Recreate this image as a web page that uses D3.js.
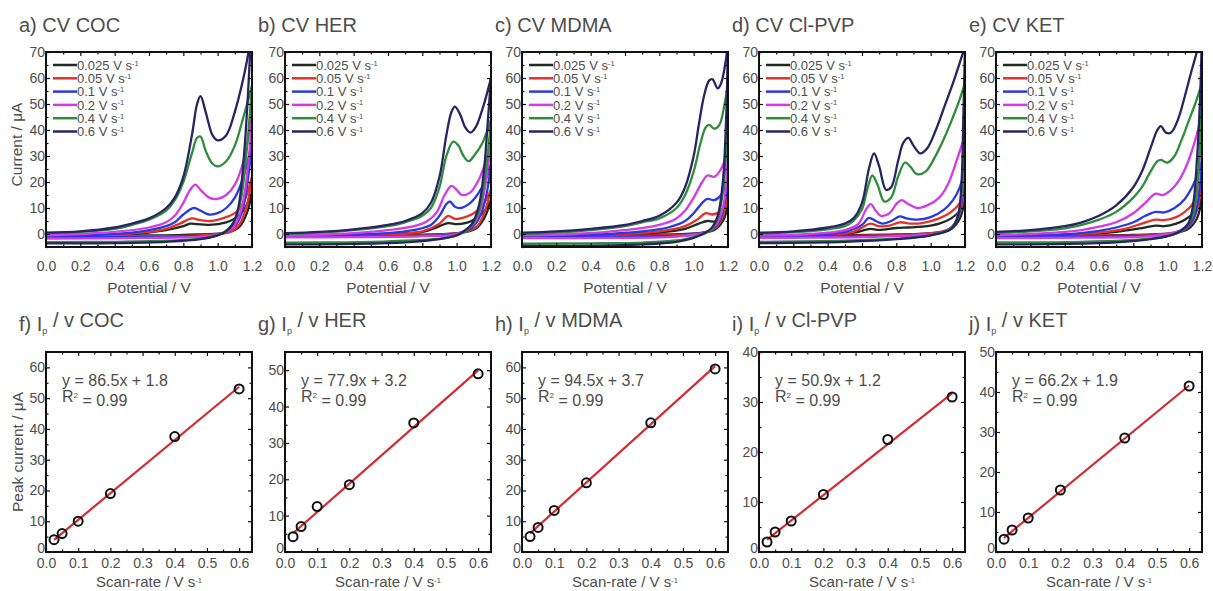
<!DOCTYPE html>
<html>
<head>
<meta charset="utf-8">
<script src="https://cdn.jsdelivr.net/npm/d3@7"></script>
<style>
  html, body { margin: 0; padding: 0; background: #fff; }
  svg { display: block; font-family: "Liberation Sans", Arial, sans-serif; }
</style>
</head>
<body>
<svg id="chart" width="1213" height="591"></svg>
<script>
// ---- data -------------------------------------------------------------
const analytes = ["COC", "HER", "MDMA", "Cl-PVP", "KET"];
const cvLetters = ["a", "b", "c", "d", "e"];
const fitLetters = ["f", "g", "h", "i", "j"];
const scanRates = [0.025, 0.05, 0.1, 0.2, 0.4, 0.6];
const rateLabels = ["0.025", "0.05", "0.1", "0.2", "0.4", "0.6"];

// potential (V), current (µA); forward sweeps for each scan rate (slowest first)
const cvCOCForward = [
  [[0,-0.6],[0.5,0],[0.7,1.5],[0.8,3],[0.84,4],[0.88,3.8],[0.95,3.5],[1.05,4.5],[1.1,6],[1.15,9],[1.2,16]],
  [[0,-0.8],[0.4,-0.3],[0.6,0.8],[0.7,2],[0.78,4],[0.85,6],[0.9,5.3],[0.96,5],[1.05,6.5],[1.1,8],[1.15,12],[1.2,22]],
  [[0,-0.8],[0.3,-0.3],[0.5,0.5],[0.6,1.5],[0.7,3],[0.75,4.5],[0.8,7.5],[0.86,10],[0.9,9],[0.95,7.5],[1.0,8],[1.05,10],[1.1,14],[1.15,22],[1.2,35]],
  [[0,-0.5],[0.2,0],[0.4,0.8],[0.6,2.5],[0.7,4.5],[0.75,7],[0.8,12],[0.84,17],[0.87,19],[0.9,17],[0.95,14],[1.0,13.5],[1.05,15],[1.1,19],[1.15,28],[1.2,46]],
  [[0,0.3],[0.2,0.8],[0.4,2],[0.5,3.5],[0.6,5.5],[0.7,9],[0.75,13],[0.8,20],[0.85,31],[0.88,37],[0.9,37.5],[0.93,32],[0.97,27],[1.0,26],[1.05,28],[1.1,34],[1.15,45],[1.2,57]],
  [[0,0.5],[0.2,1],[0.4,2.5],[0.5,4],[0.6,6],[0.7,10],[0.75,14],[0.8,22],[0.85,38],[0.88,50],[0.9,53],[0.93,47],[0.97,38],[1.0,36],[1.05,38],[1.1,47],[1.15,60],[1.18,70],[1.2,78]]
];
const cvCOCReverse = [
  [[1.2,16],[1.17,8],[1.13,3],[1.07,0.8],[0.8,-0.3],[0,-0.5]],
  [[1.2,22],[1.17,11],[1.13,4],[1.08,1],[0.9,-0.5],[0.5,-0.8],[0,-0.9]],
  [[1.2,35],[1.17,18],[1.14,8],[1.1,3],[1.0,-0.3],[0.8,-0.9],[0.4,-1.2],[0,-1.3]],
  [[1.2,46],[1.18,28],[1.15,13],[1.12,6],[1.08,2],[1.0,-0.3],[0.9,-1],[0.6,-1.5],[0,-1.8]],
  [[1.2,57],[1.18,40],[1.16,26],[1.14,15],[1.11,7],[1.07,2.5],[1.0,-0.5],[0.9,-1.8],[0.7,-2.6],[0.4,-3],[0,-3.1]],
  [[1.2,85],[1.18,58],[1.16,36],[1.14,20],[1.12,10],[1.09,4],[1.05,1],[1.0,-0.5],[0.9,-2],[0.7,-3],[0.4,-3.5],[0,-3.6]]
];

const cvHERForward = [
  [[0,-0.6],[0.5,-0.1],[0.8,0.8],[0.9,3],[0.95,4.2],[1.0,3.8],[1.05,4.2],[1.1,5.5],[1.15,8],[1.2,13]],
  [[0,-0.8],[0.5,-0.2],[0.8,1],[0.9,4],[0.95,7],[0.99,5.8],[1.05,6.5],[1.1,8],[1.15,11],[1.2,17]],
  [[0,-0.8],[0.4,-0.3],[0.7,1],[0.85,3.5],[0.9,7],[0.94,11.5],[0.96,12.5],[0.99,10.5],[1.02,10],[1.08,12],[1.13,16],[1.17,21],[1.2,27]],
  [[0,-0.5],[0.3,0],[0.6,1.5],[0.8,4],[0.88,8],[0.93,15],[0.97,18.5],[1.0,17],[1.03,15],[1.08,16],[1.13,21],[1.17,28],[1.2,35]],
  [[0,0],[0.2,0.5],[0.4,1.5],[0.6,3],[0.7,4.5],[0.8,7],[0.85,10],[0.9,18],[0.94,30],[0.98,35.5],[1.01,34],[1.04,30],[1.07,28],[1.1,30],[1.15,35],[1.2,44]],
  [[0,0.3],[0.2,0.8],[0.4,1.8],[0.6,3.5],[0.7,5],[0.8,8],[0.85,12],[0.9,22],[0.94,38],[0.97,47],[0.99,49],[1.02,46],[1.05,41],[1.08,39],[1.11,41],[1.15,48],[1.2,60]]
];
const cvHERReverse = [
  [[1.2,13],[1.16,6],[1.11,2],[1.0,0.3],[0.7,-0.3],[0,-0.5]],
  [[1.2,17],[1.16,8],[1.12,3],[1.05,0.8],[0.9,-0.3],[0.5,-0.7],[0,-0.8]],
  [[1.2,27],[1.17,14],[1.13,6],[1.08,2],[1.0,0],[0.8,-0.7],[0.4,-1],[0,-1.1]],
  [[1.2,35],[1.17,20],[1.14,10],[1.1,4],[1.0,0],[0.8,-0.8],[0.4,-1.2],[0,-1.3]],
  [[1.2,44],[1.18,30],[1.15,15],[1.12,7],[1.07,2],[1.0,-0.5],[0.9,-1.8],[0.6,-2.8],[0.3,-3.2],[0,-3.3]],
  [[1.2,60],[1.18,42],[1.16,25],[1.13,11],[1.09,4],[1.04,1],[1.0,-0.5],[0.9,-2],[0.7,-3.2],[0.4,-3.8],[0,-4]]
];

const cvMDMAForward = [
  [[0,-0.6],[0.5,-0.1],[0.8,0.6],[0.95,2],[1.03,4],[1.08,5],[1.12,4.8],[1.16,6.5],[1.2,11]],
  [[0,-0.8],[0.5,-0.2],[0.8,1],[0.95,3],[1.02,5.5],[1.07,8],[1.11,7.5],[1.16,9],[1.2,15]],
  [[0,-0.8],[0.4,-0.3],[0.7,1],[0.85,2.5],[0.95,5],[1.0,8],[1.05,12],[1.08,13.5],[1.12,13],[1.16,15],[1.2,22]],
  [[0,-0.5],[0.3,0],[0.6,1.5],[0.8,3.5],[0.9,6],[0.95,9],[1.0,14],[1.05,20],[1.08,22.5],[1.12,22],[1.15,24],[1.18,28],[1.2,33]],
  [[0,0],[0.2,0.5],[0.4,1.5],[0.6,3],[0.7,4.5],[0.8,6],[0.9,10],[0.95,15],[1.0,24],[1.04,35],[1.07,41],[1.09,42],[1.12,40.5],[1.15,42],[1.18,50],[1.2,58]],
  [[0,0.5],[0.2,1],[0.4,2],[0.6,3.5],[0.7,5],[0.8,7],[0.9,12],[0.95,18],[1.0,30],[1.03,42],[1.06,53],[1.09,59],[1.11,59.5],[1.14,56],[1.16,58],[1.19,68],[1.2,75]]
];
const cvMDMAReverse = [
  [[1.2,11],[1.17,5],[1.12,1.5],[1.0,0.2],[0.6,-0.3],[0,-0.5]],
  [[1.2,15],[1.17,7],[1.13,2.5],[1.05,0.3],[0.7,-0.6],[0,-0.8]],
  [[1.2,22],[1.18,12],[1.15,5],[1.1,1.5],[1.0,-0.3],[0.7,-0.9],[0,-1.1]],
  [[1.2,33],[1.19,20],[1.17,10],[1.13,3.5],[1.08,0.8],[0.9,-1],[0.5,-1.5],[0,-1.6]],
  [[1.2,58],[1.19,34],[1.17,16],[1.14,6],[1.1,1.5],[1.0,-1.2],[0.9,-2.5],[0.7,-3.3],[0.4,-3.6],[0,-3.7]],
  [[1.2,75],[1.19,46],[1.17,20],[1.14,7],[1.1,2],[1.0,-1.5],[0.9,-3],[0.7,-4],[0.4,-4.5],[0,-4.5]]
];

const cvClPVPForward = [
  [[0,-0.6],[0.4,-0.2],[0.55,0.5],[0.62,1.6],[0.65,2],[0.7,1.6],[0.8,2.3],[0.87,2.5],[0.95,2.8],[1.05,4],[1.12,6],[1.17,9],[1.2,14]],
  [[0,-0.8],[0.4,-0.3],[0.55,0.8],[0.62,3.2],[0.65,4],[0.7,3],[0.76,3.2],[0.82,4.5],[0.88,4],[0.95,4.2],[1.05,6],[1.12,8.5],[1.17,12],[1.2,18]],
  [[0,-0.8],[0.3,-0.3],[0.5,0.8],[0.6,3.5],[0.64,6.2],[0.68,5],[0.72,4],[0.77,5],[0.82,6.8],[0.86,6],[0.92,5.5],[1.0,6.5],[1.08,9.5],[1.13,13],[1.17,18],[1.2,26]],
  [[0,-0.5],[0.3,0],[0.5,1.5],[0.58,4],[0.62,9],[0.65,11.5],[0.68,9],[0.71,7],[0.76,8],[0.8,11.5],[0.83,13],[0.87,11.5],[0.92,10],[0.98,11],[1.05,14],[1.1,19],[1.15,28],[1.2,38]],
  [[0,0.2],[0.2,0.7],[0.4,1.8],[0.5,3],[0.55,5],[0.6,9.5],[0.63,17],[0.66,22.5],[0.69,19],[0.73,12.5],[0.77,14],[0.81,22],[0.85,27.5],[0.88,26],[0.92,23],[0.97,24],[1.02,29],[1.08,37],[1.13,45],[1.17,52],[1.2,58]],
  [[0,0.5],[0.2,1],[0.4,2.5],[0.5,4],[0.55,6],[0.6,12],[0.64,25],[0.67,31],[0.7,26],[0.74,17],[0.77,18],[0.81,28],[0.84,35],[0.87,37],[0.9,34],[0.94,31],[0.98,33],[1.03,40],[1.08,49],[1.13,58],[1.18,68],[1.2,72]]
];
const cvClPVPReverse = [
  [[1.2,14],[1.17,6],[1.12,2],[1.05,0.6],[0.8,-0.2],[0,-0.5]],
  [[1.2,18],[1.17,8],[1.13,3],[1.07,1],[0.9,-0.2],[0.5,-0.7],[0,-0.9]],
  [[1.2,26],[1.18,12],[1.15,5],[1.1,1.5],[1.0,-0.2],[0.6,-0.8],[0,-1.1]],
  [[1.2,38],[1.19,22],[1.17,10],[1.13,3],[1.06,0.5],[0.7,-1],[0.3,-1.4],[0,-1.5]],
  [[1.2,58],[1.19,34],[1.18,16],[1.15,5],[1.1,1.5],[1.0,-0.5],[0.8,-1.8],[0.5,-2.6],[0,-3]],
  [[1.2,72],[1.19,44],[1.18,20],[1.16,7],[1.12,2],[1.0,-0.5],[0.8,-2],[0.5,-3],[0,-3.5]]
];

const cvKETForward = [
  [[0,-0.6],[0.5,-0.1],[0.7,0.8],[0.85,2.3],[0.93,3.2],[0.98,3],[1.05,4],[1.1,5.5],[1.15,8],[1.2,14]],
  [[0,-0.8],[0.4,-0.3],[0.6,0.5],[0.75,2],[0.85,4],[0.93,5.5],[0.98,5.3],[1.05,6.5],[1.1,8.5],[1.15,12],[1.2,20]],
  [[0,-0.8],[0.4,-0.2],[0.6,1.2],[0.7,2.5],[0.8,4.5],[0.87,7],[0.93,8.5],[0.98,8.3],[1.04,10],[1.1,13.5],[1.15,19],[1.2,28]],
  [[0,-0.5],[0.3,0.3],[0.5,1.5],[0.6,2.8],[0.7,4.5],[0.8,8],[0.87,12],[0.93,15.5],[0.97,15],[1.02,17],[1.07,21],[1.12,28],[1.16,36],[1.2,46]],
  [[0,0.3],[0.2,1],[0.4,2.2],[0.5,3.5],[0.6,5.5],[0.7,8.5],[0.8,14],[0.85,18],[0.9,24],[0.94,28],[0.96,28.5],[1.0,27.5],[1.04,30],[1.08,36],[1.12,43],[1.16,50],[1.2,58]],
  [[0,0.8],[0.2,1.5],[0.4,3],[0.5,4.5],[0.6,7],[0.7,11],[0.8,18],[0.85,24],[0.9,33],[0.94,40],[0.96,41.5],[0.99,39],[1.02,39],[1.06,44],[1.1,53],[1.14,63],[1.17,70],[1.2,78]]
];
const cvKETReverse = [
  [[1.2,14],[1.17,6],[1.12,2],[1.05,0.5],[0.8,-0.3],[0,-0.5]],
  [[1.2,20],[1.17,9],[1.13,3.5],[1.07,1],[0.9,-0.3],[0.5,-0.7],[0,-0.9]],
  [[1.2,28],[1.18,14],[1.15,6],[1.1,2],[1.0,-0.2],[0.7,-0.8],[0,-1.1]],
  [[1.2,46],[1.18,24],[1.16,11],[1.12,4],[1.06,1],[0.9,-0.8],[0.5,-1.4],[0,-1.6]],
  [[1.2,58],[1.19,36],[1.17,16],[1.14,6],[1.09,1.5],[1.0,-0.8],[0.8,-2.3],[0.5,-3],[0,-3.2]],
  [[1.2,78],[1.19,54],[1.17,28],[1.15,12],[1.12,4],[1.07,1],[1.0,-0.8],[0.9,-2],[0.7,-3.2],[0.4,-3.8],[0,-4]]
];

// anodic peak current (µA) against scan rate
const peakCOC = [4.0, 6.0, 10.0, 19.0, 37.5, 53.0];
const peakHER = [4.2, 7.0, 12.5, 18.5, 35.5, 49.0];
const peakMDMA = [5.0, 8.0, 13.5, 22.5, 42.0, 59.5];
const peakClPVP = [2.0, 4.0, 6.2, 11.5, 22.5, 31.0];
const peakKET = [3.2, 5.5, 8.5, 15.5, 28.5, 41.5];

// linear fits: slope, intercept, R²
const fitSlopes = [86.5, 77.9, 94.5, 50.9, 66.2];
const fitIntercepts = [1.8, 3.2, 3.7, 1.2, 1.9];
const fitR2 = ["0.99", "0.99", "0.99", "0.99", "0.99"];
const peakAxisMax = [65, 55, 65, 40, 50];

const potentialTicks = [0, 0.2, 0.4, 0.6, 0.8, 1.0, 1.2];
const currentTicks = [0, 10, 20, 30, 40, 50, 60, 70];
const rateTicks = [0, 0.1, 0.2, 0.3, 0.4, 0.5, 0.6];

const cvForward = [cvCOCForward, cvHERForward, cvMDMAForward, cvClPVPForward, cvKETForward];
const cvReverse = [cvCOCReverse, cvHERReverse, cvMDMAReverse, cvClPVPReverse, cvKETReverse];
const peaks = [peakCOC, peakHER, peakMDMA, peakClPVP, peakKET];

// ---- styles -------------------------------------------------------------
const rateColors = ["#1f2a22", "#e2322b", "#2b38e0", "#d23be6", "#2f8c3a", "#272463"];
const textColor = "#4d4d4d";
const panelLeft = [46, 285, 522, 759, 996];
const panelW = 206;
const cvTop = 52, cvH = 195;
const fitTop = 352, fitH = 200;

const svg = d3.select("#chart");
const defs = svg.append("defs");

function drawFrame(g, x, y, w, h, xMajor, xMinor, yMajor, yMinor, xFmt, yFmt, xPad) {
  const clean = sel => { sel.select(".domain").remove(); sel.selectAll("line").attr("stroke", "#111").attr("stroke-width", 1.2); };
  const lab = sel => sel.selectAll("text").attr("fill", textColor).style("font-size", "14px");
  g.append("g").attr("transform", `translate(0,${h})`)
    .call(d3.axisBottom(x).tickValues(xMajor).tickSize(-4).tickPadding(xPad).tickFormat(xFmt)).call(clean).call(lab);
  g.append("g").attr("transform", `translate(0,${h})`)
    .call(d3.axisBottom(x).tickValues(xMinor).tickSize(-2.5).tickFormat("")).call(clean);
  g.append("g").call(d3.axisTop(x).tickValues(xMajor).tickSize(-4).tickFormat("")).call(clean);
  g.append("g").call(d3.axisTop(x).tickValues(xMinor).tickSize(-2.5).tickFormat("")).call(clean);
  const yl = g.append("g")
    .call(d3.axisLeft(y).tickValues(yMajor).tickSize(-4).tickPadding(1).tickFormat(yFmt)).call(clean).call(lab);
  g.append("g").call(d3.axisLeft(y).tickValues(yMinor).tickSize(-2.5).tickFormat("")).call(clean);
  g.append("g").attr("transform", `translate(${w},0)`)
    .call(d3.axisRight(y).tickValues(yMajor).tickSize(-4).tickFormat("")).call(clean);
  g.append("g").attr("transform", `translate(${w},0)`)
    .call(d3.axisRight(y).tickValues(yMinor).tickSize(-2.5).tickFormat("")).call(clean);
  g.append("rect").attr("width", w).attr("height", h)
    .attr("fill", "none").attr("stroke", "#111").attr("stroke-width", 2);
  return yl;
}

// ---- cyclic voltammograms ----------------------------------------------
analytes.forEach((name, p) => {
  const g = svg.append("g").attr("transform", `translate(${panelLeft[p]},${cvTop})`);
  const x = d3.scaleLinear().domain([0, 1.2]).range([0, panelW]);
  const y = d3.scaleLinear().domain([-5, 70]).range([cvH, 0]);

  defs.append("clipPath").attr("id", `cvclip${p}`)
    .append("rect").attr("width", panelW).attr("height", cvH);

  const line = d3.line().x(d => x(d[0])).y(d => y(d[1])).curve(d3.curveCatmullRom.alpha(0.5));
  const curves = g.append("g").attr("clip-path", `url(#cvclip${p})`);
  scanRates.forEach((r, i) => {
    [cvReverse[p][i], cvForward[p][i]].forEach(sweep => {
      curves.append("path").attr("d", line(sweep))
        .attr("fill", "none").attr("stroke", rateColors[i])
        .attr("stroke-width", 2.3).attr("stroke-linejoin", "round");
    });
  });

  drawFrame(g, x, y, panelW, cvH,
    potentialTicks, d3.range(1, 12, 2).map(v => v / 10),
    currentTicks, d3.range(-5, 70, 10),
    d3.format(".1f"), d3.format("d"), 14);

  // legend
  const leg = g.append("g").attr("transform", "translate(7,13)");
  rateLabels.forEach((lbl, i) => {
    const row = leg.append("g").attr("transform", `translate(0,${i * 13.3})`);
    row.append("line").attr("x1", 0).attr("x2", 24).attr("stroke", rateColors[i]).attr("stroke-width", 2.5);
    const t = row.append("text").attr("x", 24).attr("dy", "0.36em")
      .attr("fill", textColor).style("font-size", "13px").text(`${lbl} V s`);
    t.append("tspan").attr("dy", "-0.55em").style("font-size", "7.5px").text("-1");
  });

  svg.append("text").attr("x", panelLeft[p] - 27).attr("y", 32)
    .attr("fill", textColor).style("font-size", "20px").text(`${cvLetters[p]}) CV ${name}`);
  svg.append("text").attr("x", panelLeft[p] + panelW / 2).attr("y", 293)
    .attr("text-anchor", "middle").attr("fill", textColor).style("font-size", "15.5px").text("Potential / V");
});

svg.append("text").attr("transform", `translate(22,${cvTop + cvH / 2 - 5}) rotate(-90)`)
  .attr("text-anchor", "middle").attr("fill", textColor).style("font-size", "15.5px").text("Current / μA");

// ---- peak current vs scan rate -------------------------------------------
analytes.forEach((name, p) => {
  const g = svg.append("g").attr("transform", `translate(${panelLeft[p]},${fitTop})`);
  const x = d3.scaleLinear().domain([0, 0.64]).range([0, panelW]);
  const y = d3.scaleLinear().domain([0, peakAxisMax[p]]).range([fitH, 0]);
  const yMajor = d3.range(0, peakAxisMax[p] + 0.1, 10);
  const yMinor = d3.range(5, peakAxisMax[p], 10);

  const yl = drawFrame(g, x, y, panelW, fitH,
    rateTicks, d3.range(0.05, 0.64, 0.1),
    yMajor, yMinor, d3.format(".1f"), d3.format("d"), 6);
  // lift the zero label clear of the corner
  yl.selectAll(".tick text").filter(d => d === 0).attr("dy", "0.05em");

  const x0 = scanRates[0], x1 = scanRates[scanRates.length - 1];
  const fit = v => fitSlopes[p] * v + fitIntercepts[p];
  g.append("line")
    .attr("x1", x(x0)).attr("y1", y(fit(x0)))
    .attr("x2", x(x1)).attr("y2", y(fit(x1)))
    .attr("stroke", "#d42a33").attr("stroke-width", 2.2);

  g.selectAll("circle.pt").data(scanRates).join("circle").attr("class", "pt")
    .attr("cx", d => x(d)).attr("cy", (d, i) => y(peaks[p][i])).attr("r", 4.5)
    .attr("fill", "none").attr("stroke", "#111").attr("stroke-width", 2);

  g.append("text").attr("x", 16).attr("y", 34).attr("fill", textColor).style("font-size", "16px")
    .text(`y = ${fitSlopes[p].toFixed(1)}x + ${fitIntercepts[p].toFixed(1)}`);
  const r2 = g.append("text").attr("x", 16).attr("y", 50).attr("fill", textColor).style("font-size", "16px").text("R");
  r2.append("tspan").attr("dy", "-0.5em").style("font-size", "8px").text("2");
  r2.append("tspan").attr("dy", "0.5em").text(` = ${fitR2[p]}`);

  const title = svg.append("text").attr("x", panelLeft[p] - 27).attr("y", 331)
    .attr("fill", textColor).style("font-size", "20px").text(`${fitLetters[p]}) I`);
  title.append("tspan").attr("dy", "0.35em").style("font-size", "9px").text("p");
  title.append("tspan").attr("dy", "-0.35em").text(` / v ${name}`);

  const xt = svg.append("text").attr("x", panelLeft[p] + panelW / 2).attr("y", 587)
    .attr("text-anchor", "middle").attr("fill", textColor).style("font-size", "15px").text("Scan-rate / V s");
  xt.append("tspan").attr("dy", "-0.5em").style("font-size", "7.5px").text("-1");
});

svg.append("text").attr("transform", `translate(23,${fitTop + fitH / 2}) rotate(-90)`)
  .attr("text-anchor", "middle").attr("fill", textColor).style("font-size", "15.5px").text("Peak current / μA");
</script>
</body>
</html>
